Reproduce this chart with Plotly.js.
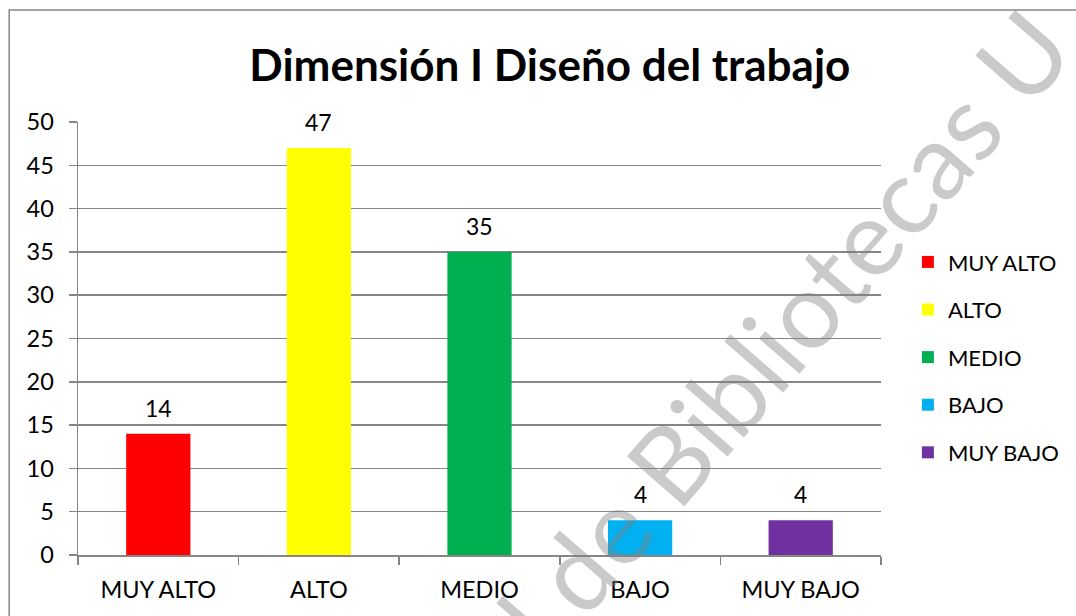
<!DOCTYPE html>
<html>
<head>
<meta charset="utf-8">
<script src="https://cdn.plot.ly/plotly-3.0.1.min.js"></script>
<style>html,body{margin:0;padding:0;background:#fff;}#chart{width:1076px;height:616px;}</style>
</head>
<body>
<div id="chart"></div>
<script>
const categories = ['MUY ALTO', 'ALTO', 'MEDIO', 'BAJO', 'MUY BAJO'];
const values = [14, 47, 35, 4, 4];
const colors = ['#FF0000', '#FFFF00', '#00B050', '#00B0F0', '#7030A0'];
const yTicks = [0, 5, 10, 15, 20, 25, 30, 35, 40, 45, 50];
const titleText = 'Dimensión I Diseño del trabajo';
const watermarkText = 'l de Bibliotecas U';

const FONT = 'Lato, Calibri, Carlito, sans-serif';
const GRAY = '#868686';

const traces = categories.map((c, i) => ({
  type: 'bar',
  x: [c],
  y: [values[i]],
  name: c,
  legendgroup: c,
  width: 0.4,
  marker: {color: colors[i]},
  hoverinfo: 'x+y'
}));

const labelAnnotations = categories.map((c, i) => ({
  x: c, y: values[i], xref: 'x', yref: 'y',
  text: String(values[i]), showarrow: false,
  xanchor: 'center', yanchor: 'middle', yshift: 26,
  font: {family: FONT, size: 23, color: '#000'}
}));

const watermark = {
  xref: 'paper', yref: 'paper', x: 0.878, y: 0.52,
  text: watermarkText, showarrow: false, textangle: -49,
  xanchor: 'center', yanchor: 'middle',
  font: {family: FONT, size: 106, weight: 400, color: 'rgba(128,128,128,0.42)'}
};

const layout = {
  width: 1076, height: 616,
  margin: {l: 78, r: 193, t: 122, b: 61},
  paper_bgcolor: '#fff', plot_bgcolor: '#fff',
  barmode: 'overlay',
  showlegend: true,
  font: {family: FONT, size: 23, color: '#000'},
  title: {
    text: titleText,
    font: {family: FONT, size: 44, weight: 'bold', color: '#000'},
    xref: 'container', x: 0.511, xanchor: 'center',
    yref: 'container', y: 0.894, yanchor: 'middle'
  },
  xaxis: {
    type: 'category',
    categoryorder: 'array', categoryarray: categories,
    tickson: 'boundaries',
    ticks: 'outside', ticklen: 8, tickwidth: 1.5, tickcolor: GRAY,
    showline: true, linecolor: GRAY, linewidth: 1.5,
    showgrid: false,
    ticklabelstandoff: 13,
    tickfont: {family: FONT, size: 23.5, color: '#000'},
    fixedrange: true
  },
  yaxis: {
    range: [0, 50],
    tickvals: yTicks,
    ticks: 'outside', ticklen: 8, tickwidth: 1.5, tickcolor: GRAY,
    showline: true, linecolor: GRAY, linewidth: 1.5,
    showgrid: true, gridcolor: GRAY, gridwidth: 1.5,
    zeroline: false,
    ticklabelstandoff: 10,
    tickfont: {family: FONT, size: 23.5, color: '#000'},
    fixedrange: true
  },
  legend: {
    x: 1.0335, xanchor: 'left', xref: 'paper',
    y: 0.457, yanchor: 'middle', yref: 'paper',
    traceorder: 'grouped',
    tracegroupgap: 16,
    font: {family: FONT, size: 22, color: '#000'},
    bgcolor: 'rgba(0,0,0,0)'
  },
  shapes: [{
    type: 'rect', xref: 'paper', yref: 'paper',
    x0: -0.0857, x1: 1.26, y0: -0.2, y1: 1.2587,
    line: {color: GRAY, width: 1.5}, fillcolor: 'rgba(0,0,0,0)', layer: 'below'
  }],
  annotations: labelAnnotations.concat([watermark])
};

Plotly.newPlot('chart', traces, layout, {displayModeBar: false, staticPlot: true});
</script>
</body>
</html>
